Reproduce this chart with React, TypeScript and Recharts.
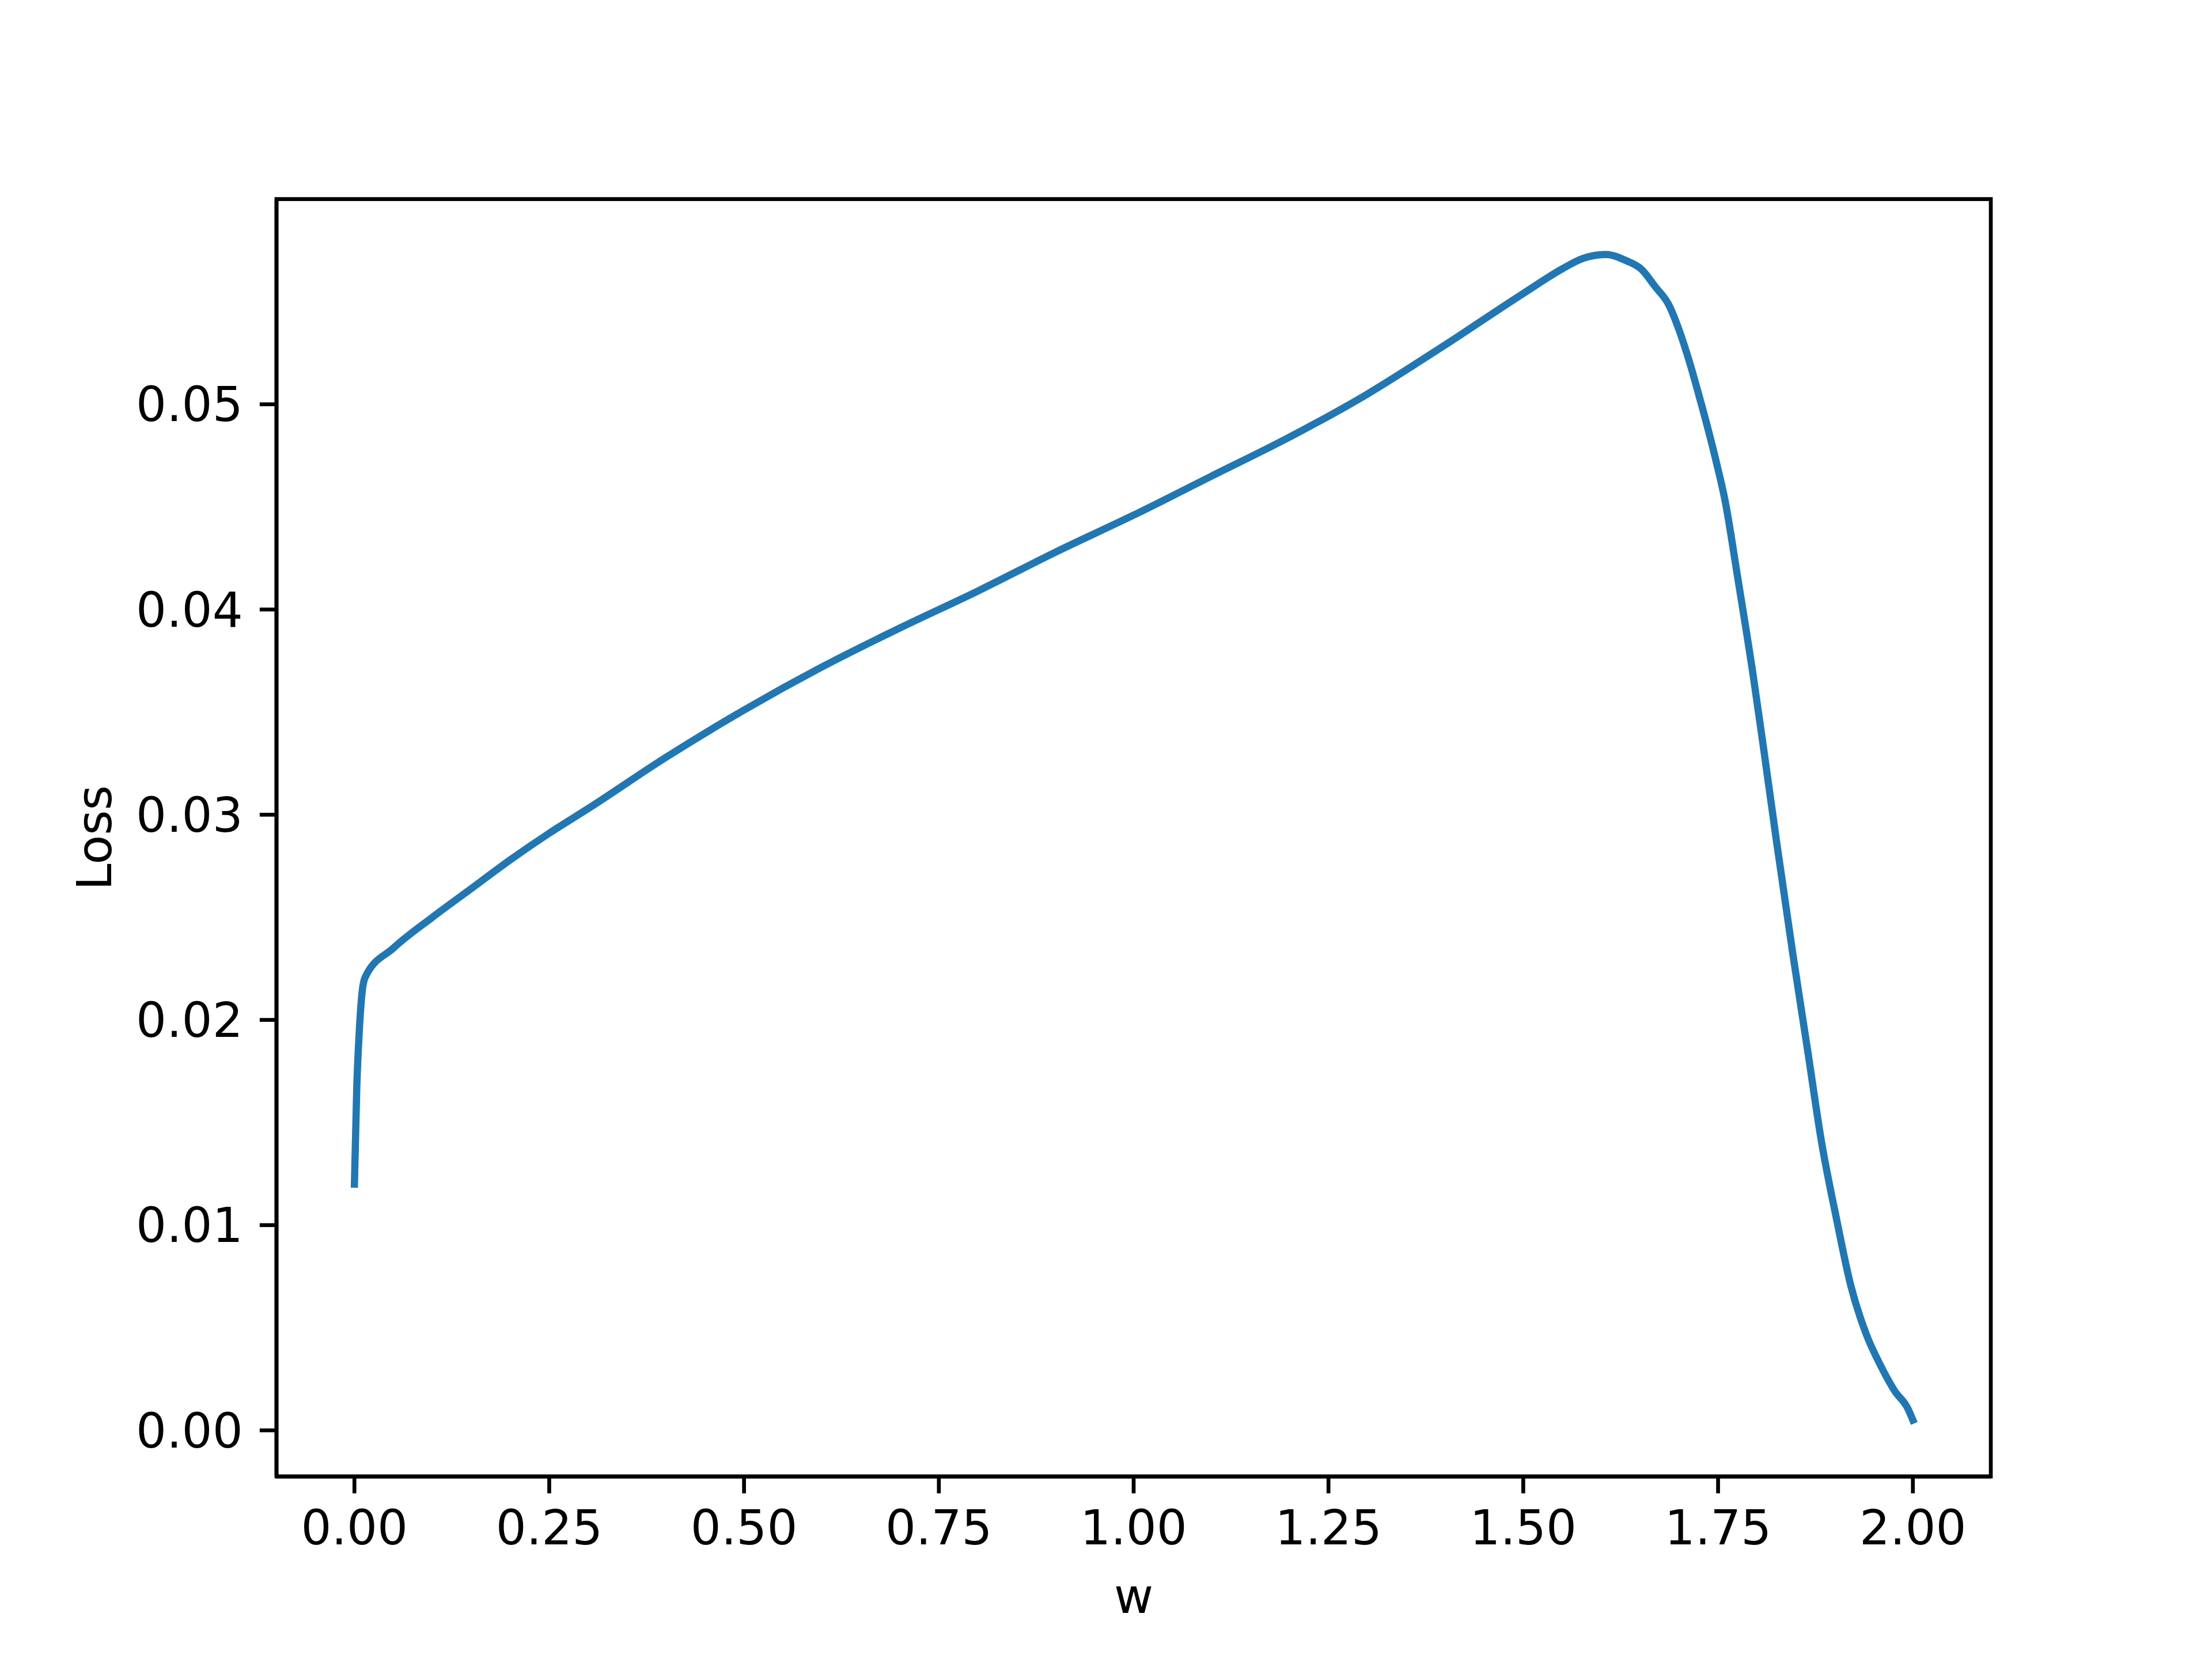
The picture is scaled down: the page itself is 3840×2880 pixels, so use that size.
import { Line, LineChart, ReferenceArea, XAxis, YAxis } from 'recharts';

// values
const wValues = [
  0.0, 0.003, 0.006, 0.01, 0.014, 0.05, 0.1, 0.15, 0.2, 0.25, 0.3, 0.4, 0.5, 0.6, 0.7, 0.8,
  0.9, 1.0, 1.1, 1.2, 1.3, 1.4, 1.5, 1.55, 1.576, 1.606, 1.632, 1.651, 1.67, 1.686, 1.702,
  1.713, 1.725, 1.747, 1.759, 1.775, 1.795, 1.81, 1.825, 1.846, 1.865, 1.883, 1.902, 1.92,
  1.94, 1.958, 1.977, 1.993, 2.0,
];

const lossValues = [
  0.012, 0.0167, 0.0193, 0.0214, 0.0221, 0.0235, 0.025, 0.0264, 0.0278, 0.0291, 0.0303,
  0.0328, 0.0351, 0.0372, 0.0391, 0.0409, 0.0428, 0.0446, 0.0465, 0.0484, 0.0505, 0.0529,
  0.0554, 0.0566, 0.0571, 0.0573, 0.057, 0.0566, 0.0557, 0.0549, 0.0534, 0.0521, 0.0505,
  0.0473, 0.0453, 0.0416, 0.0368, 0.0328, 0.0287, 0.0232, 0.0185, 0.014, 0.0103, 0.0071,
  0.0047, 0.0032, 0.0019, 0.0011, 0.0005,
];

const xTicks = [0, 0.25, 0.5, 0.75, 1.0, 1.25, 1.5, 1.75, 2.0];
const yTicks = [0, 0.01, 0.02, 0.03, 0.04, 0.05];

const xDomain: [number, number] = [-0.1, 2.1];
const yDomain: [number, number] = [-0.00225, 0.06];

const data = wValues.map((w, i) => ({ w, loss: lossValues[i] }));

// matplotlib-like sizing at 600 dpi
const W = 3840;
const H = 2880;
const PT = 600 / 72;
const FONT = 10 * PT;
const TICK = 3.5 * PT;
const LW = 0.8 * PT;
const FAMILY = '"DejaVu Sans", sans-serif';

const plotLeft = 480;
const plotRight = 3456;
const plotTop = 345.6;
const plotBottom = 2563.2;

const yAxisWidth = 200;
const xAxisHeight = 236.8;

const tickStyle = { fill: '#000', fontSize: FONT, fontFamily: FAMILY };

function YLabel() {
  const cx = 163.4;
  const cy = (plotTop + plotBottom) / 2;
  return (
    <text
      x={cx}
      y={cy}
      dy="0.355em"
      transform={`rotate(-90 ${cx} ${cy})`}
      textAnchor="middle"
      fill="#000"
      fontSize={FONT}
      fontFamily={FAMILY}
    >
      Loss
    </text>
  );
}

export default function App() {
  return (
    <div style={{ position: 'absolute', left: 0, top: 0, width: W, height: H, background: '#fff' }}>
      <LineChart
        width={W}
        height={H}
        data={data}
        margin={{
          top: plotTop,
          right: W - plotRight,
          bottom: H - plotBottom - xAxisHeight,
          left: plotLeft - yAxisWidth,
        }}
      >
        <XAxis
          dataKey="w"
          type="number"
          domain={xDomain}
          ticks={xTicks}
          allowDataOverflow
          height={xAxisHeight}
          tickFormatter={(v: number) => v.toFixed(2)}
          tick={tickStyle}
          tickSize={TICK}
          tickMargin={TICK}
          axisLine={{ stroke: '#000', strokeWidth: LW }}
          tickLine={{ stroke: '#000', strokeWidth: LW }}
          label={{
            value: 'w',
            position: 'insideBottom',
            offset: 0,
            fill: '#000',
            fontSize: FONT,
            fontFamily: FAMILY,
          }}
        />
        <YAxis
          type="number"
          domain={yDomain}
          ticks={yTicks}
          allowDataOverflow
          width={yAxisWidth}
          tickFormatter={(v: number) => v.toFixed(2)}
          tick={tickStyle}
          tickSize={TICK}
          tickMargin={TICK}
          axisLine={{ stroke: '#000', strokeWidth: LW }}
          tickLine={{ stroke: '#000', strokeWidth: LW }}
          label={{ content: () => <YLabel /> }}
        />
        <Line
          type="monotone"
          dataKey="loss"
          stroke="#1f77b4"
          strokeWidth={1.5 * PT}
          strokeLinejoin="round"
          strokeLinecap="square"
          dot={false}
          activeDot={false}
          isAnimationActive={false}
        />
        <ReferenceArea
          x1={xDomain[0]}
          x2={xDomain[1]}
          y1={yDomain[0]}
          y2={yDomain[1]}
          fill="none"
          stroke="#000"
          strokeWidth={LW}
          ifOverflow="visible"
        />
      </LineChart>
    </div>
  );
}
